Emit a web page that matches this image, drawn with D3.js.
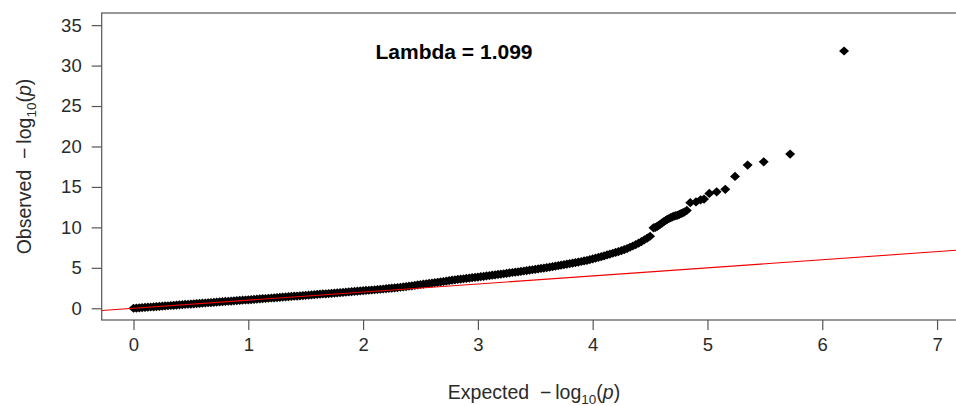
<!DOCTYPE html>
<html>
<head>
<meta charset="utf-8">
<script src="https://cdn.jsdelivr.net/npm/d3@7/dist/d3.min.js"></script>
<style>
  html, body { margin: 0; padding: 0; background: #fff; }
  svg { display: block; font-family: "Liberation Sans", Arial, sans-serif; }
</style>
</head>
<body>
<svg id="chart" width="956" height="406"></svg>
<script>
// Expected -log10(p) values (dense band + tail)
const expected = [
  0.000,0.025,0.050,0.075,0.100,0.125,0.150,0.175,0.200,0.225,
  0.250,0.275,0.300,0.325,0.350,0.375,0.400,0.425,0.450,0.475,
  0.500,0.525,0.550,0.575,0.600,0.625,0.650,0.675,0.700,0.725,
  0.750,0.775,0.800,0.825,0.850,0.875,0.900,0.925,0.950,0.975,
  1.000,1.025,1.050,1.075,1.100,1.125,1.150,1.175,1.200,1.225,
  1.250,1.275,1.300,1.325,1.350,1.375,1.400,1.425,1.450,1.475,
  1.500,1.525,1.550,1.575,1.600,1.625,1.650,1.675,1.700,1.725,
  1.750,1.775,1.800,1.825,1.850,1.875,1.900,1.925,1.950,1.975,
  2.000,2.025,2.050,2.075,2.100,2.125,2.150,2.175,2.200,2.225,
  2.250,2.275,2.300,2.325,2.350,2.375,2.400,2.425,2.450,2.475,
  2.500,2.525,2.550,2.575,2.600,2.625,2.650,2.675,2.700,2.725,
  2.750,2.775,2.800,2.825,2.850,2.875,2.900,2.925,2.950,2.975,
  3.000,3.025,3.050,3.075,3.100,3.125,3.150,3.175,3.200,3.225,
  3.250,3.275,3.300,3.325,3.350,3.375,3.400,3.425,3.450,3.475,
  3.500,3.525,3.550,3.575,3.600,3.625,3.650,3.675,3.700,3.725,
  3.750,3.775,3.800,3.825,3.850,3.875,3.900,3.925,3.950,3.975,
  4.000,4.025,4.050,4.075,4.100,4.125,4.150,4.175,4.200,4.225,
  4.250,4.275,4.300,4.325,4.350,4.375,4.400,4.425,4.450,4.475,
  4.500,4.530,4.545,4.560,4.575,4.590,4.605,4.620,4.635,4.650,
  4.665,4.680,4.695,4.710,4.725,4.740,4.755,4.770,4.785,4.800,
  4.820,4.850,4.900,4.940,4.970,5.016,5.080,5.155,5.240,5.350,
  5.490,5.720,6.190
];
// Observed -log10(p) values
const observed = [
  0.00,0.02,0.05,0.08,0.10,0.13,0.16,0.18,0.21,0.23,
  0.26,0.29,0.31,0.34,0.37,0.39,0.42,0.44,0.47,0.50,
  0.52,0.55,0.58,0.60,0.63,0.65,0.68,0.71,0.74,0.76,
  0.79,0.81,0.84,0.87,0.89,0.92,0.95,0.97,1.00,1.02,
  1.05,1.08,1.10,1.13,1.16,1.18,1.21,1.24,1.27,1.29,
  1.32,1.35,1.38,1.40,1.43,1.46,1.49,1.51,1.54,1.57,
  1.60,1.62,1.65,1.68,1.71,1.74,1.77,1.79,1.82,1.85,
  1.88,1.90,1.93,1.96,1.99,2.02,2.05,2.08,2.11,2.14,
  2.17,2.20,2.23,2.26,2.29,2.32,2.35,2.38,2.42,2.45,
  2.48,2.52,2.56,2.60,2.64,2.68,2.73,2.78,2.83,2.88,
  2.94,2.98,3.03,3.07,3.12,3.16,3.21,3.26,3.31,3.36,
  3.42,3.47,3.52,3.56,3.60,3.65,3.69,3.73,3.78,3.82,
  3.86,3.91,3.95,4.00,4.04,4.09,4.13,4.18,4.22,4.27,
  4.32,4.37,4.42,4.46,4.51,4.56,4.61,4.66,4.71,4.76,
  4.81,4.86,4.92,4.97,5.03,5.08,5.14,5.20,5.27,5.33,
  5.39,5.45,5.52,5.58,5.65,5.71,5.78,5.85,5.92,6.01,
  6.10,6.19,6.28,6.38,6.48,6.59,6.70,6.80,6.90,7.01,
  7.12,7.25,7.38,7.54,7.70,7.87,8.05,8.25,8.45,8.67,
  8.90,9.95,10.0,10.1,10.25,10.4,10.55,10.7,10.85,11.0,
  11.1,11.2,11.3,11.4,11.45,11.5,11.6,11.7,11.8,11.9,
  12.1,13.05,13.15,13.4,13.5,14.2,14.4,14.7,16.3,17.7,
  18.1,19.06,31.8
];
const xTicks = [0,1,2,3,4,5,6,7];
const yTicks = [0,5,10,15,20,25,30,35];
const lambdaLabel = "Lambda = 1.099";

const svg = d3.select("#chart");
const x = d3.scaleLinear().domain([-0.277, 7.28]).range([101.7, 969.2]);
const y = d3.scaleLinear().domain([-1.45, 36.5]).range([320, 13]);
const textCol = "#2a2a2a";
const lineCol = "#555";

svg.append("defs").append("clipPath").attr("id","clip")
  .append("rect").attr("x", x.range()[0]).attr("y", y.range()[1])
  .attr("width", x.range()[1]-x.range()[0]).attr("height", y.range()[0]-y.range()[1]);

const plot = svg.append("g").attr("clip-path","url(#clip)");

// points (filled diamonds, R pch 18)
const pts = expected.map((e,i)=>({e, o: observed[i]}));
const dw = 5.0, dh = 4.6;
const diamond = `M0,${-dh}L${dw},0L0,${dh}L${-dw},0Z`;
plot.selectAll("path.pt").data(pts).join("path")
  .attr("class","pt")
  .attr("d", diamond)
  .attr("transform", d => `translate(${x(d.e)},${y(d.o)})`)
  .attr("fill", "#000");

// diagonal reference line y = x (drawn over the points)
plot.append("line")
  .attr("x1", x(-0.277)).attr("y1", y(-0.277))
  .attr("x2", x(7.28)).attr("y2", y(7.28))
  .attr("stroke", "#f20000").attr("stroke-width", 1.1);

// box
svg.append("rect")
  .attr("x", x.range()[0]).attr("y", y.range()[1])
  .attr("width", x.range()[1]-x.range()[0]).attr("height", y.range()[0]-y.range()[1])
  .attr("fill","none").attr("stroke", lineCol).attr("stroke-width", 1.2);

// x axis
const xAxis = d3.axisBottom(x).tickValues(xTicks).tickSize(10).tickPadding(8).tickSizeOuter(0);
const gx = svg.append("g").attr("transform", `translate(0,${y.range()[0]})`).call(xAxis);
gx.select(".domain").remove();
gx.selectAll("line").attr("stroke", lineCol).attr("stroke-width", 1.2);
gx.selectAll("text").attr("fill", textCol).attr("font-size", 18.5).attr("font-family","Liberation Sans, Arial, sans-serif");

// y axis
const yAxis = d3.axisLeft(y).tickValues(yTicks).tickSize(10).tickPadding(10).tickSizeOuter(0);
const gy = svg.append("g").attr("transform", `translate(${x.range()[0]},0)`).call(yAxis);
gy.select(".domain").remove();
gy.selectAll("line").attr("stroke", lineCol).attr("stroke-width", 1.2);
gy.selectAll("text").attr("fill", textCol).attr("font-size", 18.5).attr("font-family","Liberation Sans, Arial, sans-serif");

// axis titles
function logTitle(sel, prefix) {
  sel.append("tspan").text(prefix + "  \u2212\u2009log");
  sel.append("tspan").text("10").attr("font-size", 13.5).attr("dy", 4.5);
  sel.append("tspan").text("(").attr("dy", -4.5);
  sel.append("tspan").text("p").attr("font-style","italic");
  sel.append("tspan").text(")");
}
const xt = svg.append("text")
  .attr("x", 534).attr("y", 399).attr("text-anchor","middle")
  .attr("font-size", 19.5).attr("fill", textCol)
  .style("white-space","pre");
logTitle(xt, "Expected");

const yt = svg.append("text")
  .attr("transform", "translate(31,166.5) rotate(-90)")
  .attr("text-anchor","middle")
  .attr("font-size", 19.5).attr("fill", textCol)
  .style("white-space","pre");
logTitle(yt, "Observed");

// lambda annotation
svg.append("text")
  .attr("x", 454).attr("y", 59).attr("text-anchor","middle")
  .attr("font-size", 21).attr("font-weight","bold").attr("fill","#000")
  .text(lambdaLabel);
</script>
</body>
</html>
